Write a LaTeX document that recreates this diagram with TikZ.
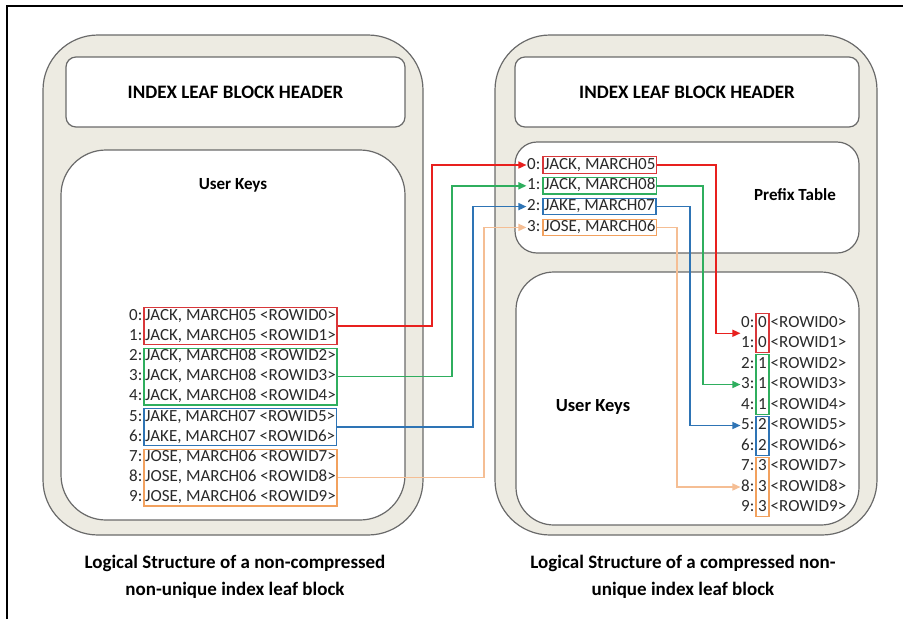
\documentclass[tikz,border=0pt]{standalone}
\usepackage{fontspec}
\setmainfont{Carlito}
\usetikzlibrary{calc}
\usetikzlibrary{fit}
\usetikzlibrary{arrows.meta}

\definecolor{blockfill}{HTML}{EDEBE2}
\definecolor{blockline}{HTML}{6A6A6A}
\definecolor{inktext}{HTML}{2A2A2A}
\definecolor{keyred}{HTML}{D8373A}
\definecolor{arrowred}{HTML}{E8201E}
\definecolor{keygreen}{HTML}{2FAE5E}
\definecolor{keyblue}{HTML}{2E74B5}
\definecolor{keyorange}{HTML}{F2A15E}
\definecolor{lineorange}{HTML}{F5BE94}

\tikzset{
  block/.style={draw=blockline, fill=blockfill, line width=1.2pt, rounded corners=55pt},
  panel/.style={draw=blockline, fill=white, line width=1.2pt, rounded corners=10pt},
  bigpanel/.style={draw=blockline, fill=white, line width=1.2pt, rounded corners=45pt},
  headtext/.style={font=\fontsize{19}{22}\selectfont\bfseries, text=black},
  rowtext/.style={font=\fontsize{17}{20}\selectfont, text=inktext, inner sep=0.5pt,
    text height=11pt, text depth=3pt},
  keybox/.style={draw=#1, line width=1.3pt, inner sep=0.5pt},
  link/.style={draw=#1, line width=1.5pt, -{Triangle[length=8pt,width=7pt]}}
}

\begin{document}
\begin{tikzpicture}[x=1pt,y=-1pt]
        \useasboundingbox (0,0) rectangle (903,619);

        % Define the row positions
        \def\ly{316}    % first row, left user keys
        \def\lh{20.2}   % row pitch, left user keys
        \def\py{165}    % first row, prefix table
        \def\ph{20.8}   % row pitch, prefix table
        \def\ry{323}    % first row, right user keys
        \def\rh{20.5}   % row pitch, right user keys

        % Columns of the connectors
        \coordinate (RedX) at (432,0);
        \coordinate (GreenX) at (452,0);
        \coordinate (BlueX) at (473,0);
        \coordinate (OrangeX) at (484,0);
        \coordinate (RedXX) at (716,0);
        \coordinate (GreenXX) at (703,0);
        \coordinate (BlueXX) at (690,0);
        \coordinate (OrangeXX) at (677,0);

        % Draw the frame
        \draw[line width=2pt] (7,619) -- (7,6) -- (903,6);

        % Draw the two leaf blocks
        \draw[block] (43,35) rectangle (423,535);
        \draw[panel] (66,57) rectangle (405,127);
        \draw[bigpanel] (61,150) rectangle (405,520);

        \draw[block] (495,35) rectangle (877,535);
        \draw[panel] (515,57) rectangle (859,127);
        \draw[panel, rounded corners=22pt] (515,142) rectangle (859,253);
        \draw[bigpanel, rounded corners=38pt] (516,272) rectangle (859,525);

        % Titles
        \node[headtext] (LHead) at (235.5,92) {INDEX LEAF BLOCK HEADER};
        \node[headtext] (RHead) at (687,92) {INDEX LEAF BLOCK HEADER};
        \node[headtext, font=\fontsize{17}{20}\selectfont\bfseries] (LKeys) at (233,185) {User Keys};
        \node[headtext, font=\fontsize{18.5}{22}\selectfont\bfseries] (RKeys) at (593,407) {User Keys};
        \node[headtext, font=\fontsize{17}{20}\selectfont\bfseries] (Prefix) at (795,195) {Prefix Table};

        % Left user keys
        \foreach \k [count=\i from 0] in {{JACK, MARCH05},{JACK, MARCH05},{JACK, MARCH08},
            {JACK, MARCH08},{JACK, MARCH08},{JAKE, MARCH07},{JAKE, MARCH07},
            {JOSE, MARCH06},{JOSE, MARCH06},{JOSE, MARCH06}} {
          \node[rowtext, anchor=east] (LN\i) at (143,{\ly+\i*\lh}) {\i:};
          \node[rowtext, anchor=west] (LK\i) at (144.5,{\ly+\i*\lh}) {\k{} <ROWID\i>};
        }
        \node[keybox=keyred, fit=(LK0)(LK1)] (LA) {};
        \node[keybox=keygreen, fit=(LK2)(LK4)] (LB) {};
        \node[keybox=keyblue, fit=(LK5)(LK6)] (LC) {};
        \node[keybox=keyorange, fit=(LK7)(LK9)] (LD) {};

        % Prefix table
        \foreach \k [count=\i from 0] in {{JACK, MARCH05},{JACK, MARCH08},
            {JAKE, MARCH07},{JOSE, MARCH06}} {
          \node[rowtext, anchor=east] (PN\i) at (541,{\py+\i*\ph}) {\i:};
          \node[rowtext, anchor=west] (PK\i) at (543.5,{\py+\i*\ph}) {\k};
        }
        \node[keybox=keyred, fit=(PK0)] (PA) {};
        \node[keybox=keygreen, fit=(PK1)] (PB) {};
        \node[keybox=keyblue, fit=(PK2)] (PC) {};
        \node[keybox=keyorange, fit=(PK3)] (PD) {};

        % Right user keys
        \foreach \d [count=\i from 0] in {0,0,1,1,1,2,2,3,3,3} {
          \node[rowtext, anchor=east] (RN\i) at (755,{\ry+\i*\rh}) {\i:};
          \node[rowtext] (RD\i) at (762.5,{\ry+\i*\rh}) {\d};
          \node[rowtext, anchor=west] (RK\i) at (770,{\ry+\i*\rh}) {<ROWID\i>};
        }
        \node[keybox=keyred, inner sep=1.5pt, fit=(RD0)(RD1)] (RA) {};
        \node[keybox=keygreen, inner sep=1.5pt, fit=(RD2)(RD4)] (RB) {};
        \node[keybox=keyblue, inner sep=1.5pt, fit=(RD5)(RD6)] (RC) {};
        \node[keybox=keyorange, inner sep=1.5pt, fit=(RD7)(RD9)] (RD) {};
        \coordinate (RIn0) at ($(RN0.west)!0.5!(RN1.west)$);

        % Draw the links into the prefix table
        \draw[link=arrowred] (LA.east) -- (LA.east -| RedX) |- (PN0.west);
        \draw[link=keygreen] (LB.east) -- (LB.east -| GreenX) |- (PN1.west);
        \draw[link=keyblue] (LC.east) -- (LC.east -| BlueX) |- (PN2.west);
        \draw[link=lineorange] (LD.east) -- (LD.east -| OrangeX) |- (PN3.west);

        % Draw the links into the compressed keys
        \draw[link=arrowred] (PA.east) -- (PA.east -| RedXX) |- (RIn0);
        \draw[link=keygreen] (PB.east) -- (PB.east -| GreenXX) |- (RN3.west);
        \draw[link=keyblue] (PC.east) -- (PC.east -| BlueXX) |- (RN5.west);
        \draw[link=lineorange] (PD.east) -- (PD.east -| OrangeXX) |- (RN8.west);

        % Captions
        \node[headtext, align=center, font=\fontsize{19}{27}\selectfont\bfseries] (LCap) at (235,577)
          {Logical Structure of a non-compressed\\non-unique index leaf block};
        \node[headtext, align=center, font=\fontsize{19}{27}\selectfont\bfseries] (RCap) at (683,577)
          {Logical Structure of a compressed non-\\unique index leaf block};
\end{tikzpicture}
\end{document}
